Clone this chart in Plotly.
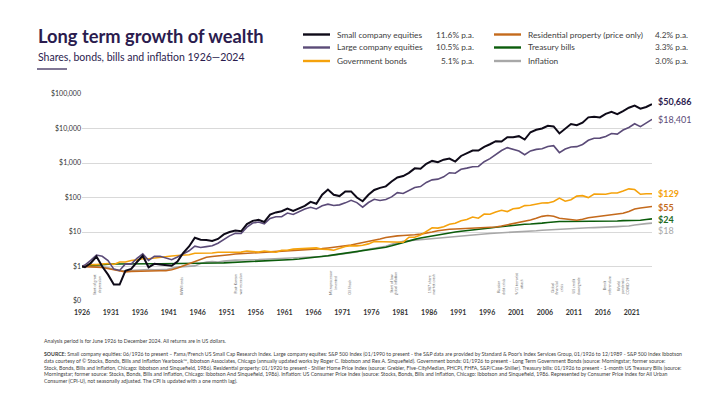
import plotly.graph_objects as go
import math

# June 1926 start, then year-end values 1926..2024 (growth of $1)
YEAR_END = list(range(1926, 2025))
X = [1926.5] + [y + 1 for y in YEAR_END]

SMALL = [1.00,
         0.95, 1.25, 1.95, 1.00, 0.58, 0.30, 0.30, 0.75, 0.85, 1.35,
         2.05, 0.95, 1.20, 1.15, 1.10, 1.05, 1.40, 2.50, 3.80, 6.80,
         6.00, 5.90, 5.50, 6.30, 8.50, 10.0, 11.0, 10.5, 17.0, 21.0,
         22.5, 19.5, 32.0, 37.0, 40.0, 48.0, 41.0, 49.0, 57.0, 75.0,
         66.0, 120, 170, 120, 110, 150, 150, 100, 78, 120,
         165, 190, 210, 290, 380, 420, 520, 700, 680, 950,
         1150, 1050, 1250, 1350, 1100, 1600, 1950, 2300, 2300, 2950,
         3500, 4300, 4200, 5600, 5600, 6000, 4800, 7800, 9200, 10000,
         12000, 11500, 7200, 10000, 13500, 12500, 14800, 21000, 22000, 21000,
         26500, 30500, 26000, 32000, 40000, 46000, 37500, 42000, 50686]

LARGE = [1.00,
         1.10, 1.50, 2.15, 1.98, 1.49, 0.84, 0.77, 1.19, 1.17, 1.73,
         2.32, 1.51, 1.98, 1.97, 1.77, 1.57, 1.89, 2.38, 2.85, 3.89,
         3.57, 3.77, 3.98, 4.73, 6.23, 7.73, 9.15, 9.05, 13.8, 18.2,
         19.4, 17.3, 24.8, 27.7, 27.9, 35.4, 32.3, 39.6, 46.2, 51.9,
         46.7, 57.9, 64.3, 58.8, 61.2, 69.9, 83.2, 71.0, 52.2, 71.6,
         88.7, 82.3, 87.7, 104, 138, 131, 159, 195, 207, 273,
         324, 341, 397, 523, 506, 660, 711, 782, 793, 1090,
         1342, 1790, 2302, 2787, 2533, 2232, 1739, 2238, 2481, 2603,
         3014, 3180, 2003, 2533, 2915, 2977, 3453, 4571, 5197, 5269,
         5899, 7187, 6872, 9035, 10697, 13768, 11274, 14237, 18401]

BONDS = [1.00,
         1.05, 1.13, 1.13, 1.17, 1.22, 1.15, 1.35, 1.35, 1.49, 1.56,
         1.68, 1.68, 1.78, 1.89, 2.00, 2.02, 2.09, 2.13, 2.19, 2.42,
         2.42, 2.36, 2.45, 2.60, 2.60, 2.49, 2.52, 2.61, 2.80, 2.77,
         2.62, 2.81, 2.65, 2.59, 2.94, 2.97, 3.18, 3.22, 3.32, 3.34,
         3.47, 3.15, 3.14, 2.97, 3.33, 3.81, 4.02, 3.97, 4.15, 4.52,
         5.29, 5.25, 5.19, 5.13, 4.94, 5.04, 7.04, 7.06, 8.15, 10.69,
         13.31, 12.95, 14.21, 16.79, 17.83, 21.29, 22.98, 27.21, 25.07, 33.00,
         32.65, 37.86, 42.77, 39.05, 47.18, 49.18, 58.08, 59.52, 64.47, 69.00,
         69.66, 77.05, 95.92, 78.20, 86.15, 109.7, 113.2, 99.5, 124.9, 122.5,
         124.2, 135.2, 134.7, 154.0, 178.0, 170.0, 124.0, 128.0, 129.0]

PROPERTY = [1.00,
            1.00, 0.98, 0.96, 0.94, 0.88, 0.82, 0.74, 0.70, 0.72, 0.73,
            0.74, 0.76, 0.76, 0.75, 0.75, 0.80, 0.90, 1.05, 1.20, 1.40,
            1.65, 1.85, 1.95, 2.00, 2.10, 2.20, 2.30, 2.35, 2.40, 2.45,
            2.50, 2.55, 2.60, 2.70, 2.80, 2.85, 2.90, 2.95, 3.00, 3.10,
            3.20, 3.30, 3.45, 3.60, 3.75, 3.95, 4.20, 4.55, 4.90, 5.20,
            5.70, 6.30, 6.90, 7.40, 7.70, 7.90, 8.00, 8.30, 8.70, 9.20,
            10.0, 10.9, 11.6, 12.0, 12.2, 12.4, 12.5, 12.9, 13.0, 13.2,
            13.5, 14.0, 14.9, 16.0, 17.3, 18.5, 20.3, 22.3, 24.9, 28.4,
            30.2, 28.5, 25.1, 23.9, 22.9, 21.9, 23.4, 25.9, 27.2, 28.7,
            30.4, 32.2, 33.7, 35.0, 39.5, 46.5, 49.5, 52.5, 55.0]

BILLS = [1.00,
         1.02, 1.05, 1.09, 1.14, 1.17, 1.18, 1.19, 1.19, 1.19, 1.19,
         1.19, 1.20, 1.20, 1.20, 1.20, 1.20, 1.20, 1.21, 1.21, 1.22,
         1.22, 1.23, 1.24, 1.26, 1.27, 1.29, 1.31, 1.33, 1.34, 1.36,
         1.39, 1.43, 1.45, 1.49, 1.53, 1.56, 1.60, 1.65, 1.71, 1.78,
         1.86, 1.94, 2.04, 2.17, 2.30, 2.40, 2.49, 2.66, 2.88, 3.05,
         3.20, 3.37, 3.62, 3.99, 4.45, 5.10, 5.62, 6.11, 6.71, 7.21,
         7.66, 8.07, 8.58, 9.27, 9.99, 10.55, 10.92, 11.25, 11.69, 12.38,
         13.02, 13.70, 14.37, 15.04, 15.92, 16.54, 16.82, 16.99, 17.20, 18.10,
         18.90, 19.80, 20.10, 20.10, 20.10, 20.10, 20.10, 20.20, 20.20, 20.20,
         20.30, 20.50, 20.90, 21.40, 21.50, 21.50, 21.90, 23.00, 24.00]

INFLATION = [1.00,
             1.01, 0.99, 0.98, 0.98, 0.92, 0.83, 0.75, 0.75, 0.77, 0.79,
             0.80, 0.82, 0.80, 0.80, 0.81, 0.89, 0.97, 0.99, 1.02, 1.04,
             1.23, 1.34, 1.38, 1.35, 1.43, 1.51, 1.53, 1.54, 1.53, 1.53,
             1.58, 1.62, 1.65, 1.68, 1.70, 1.71, 1.74, 1.77, 1.78, 1.82,
             1.88, 1.94, 2.03, 2.15, 2.27, 2.35, 2.43, 2.64, 2.97, 3.17,
             3.33, 3.55, 3.87, 4.38, 4.93, 5.37, 5.58, 5.79, 6.02, 6.25,
             6.31, 6.59, 6.89, 7.21, 7.65, 7.88, 8.11, 8.33, 8.55, 8.77,
             9.06, 9.22, 9.37, 9.62, 9.94, 10.10, 10.34, 10.53, 10.87, 11.25,
             11.53, 12.00, 12.01, 12.34, 12.53, 12.90, 13.12, 13.31, 13.42, 13.51,
             13.79, 14.09, 14.35, 14.68, 14.89, 15.93, 16.96, 17.53, 18.03]

NAMES = ["Small company equities", "Large company equities", "Government bonds",
         "Residential property (price only)", "Treasury bills", "Inflation"]
RATES = ["11.6% p.a.", "10.5% p.a.", "5.1% p.a.", "4.2% p.a.", "3.3% p.a.", "3.0% p.a."]
END_LABELS = ["$50,686", "$18,401", "$129", "$55", "$24", "$18"]

TICK_YEARS = list(range(1926, 2022, 5))
Y_TICKS = [0.1, 1, 10, 100, 1000, 10000, 100000]
Y_TEXT = ["$0", "$1", "$10", "$100", "$1,000", "$10,000", "$100,000"]

EVENTS = [(1929.2, "Start of great<br>depression"), (1943.8, "WWII ends"),
          (1953.5, "Post-Korean<br>war recession"), (1970.0, "Microprocessor<br>invented"),
          (1972.7, "Oil Shock"), (1980.4, "Start of low<br>global inflation"),
          (1986.9, "1987 share<br>market crash"), (1998.9, "Russian<br>debt crisis"),
          (2002.0, "9/11 terrorist<br>attack"), (2008.6, "Global<br>financial<br>crisis"),
          (2011.9, "US credit<br>downgrade"), (2017.2, "Brexit<br>referendum"),
          (2020.0, "World<br>pandemic:<br>COVID-19")]

SERIES = [SMALL, LARGE, BONDS, PROPERTY, BILLS, INFLATION]
COLORS = ["#0E0A18", "#5B4B78", "#F5A20C", "#C46A1C", "#0B5C0B", "#A8A8A8"]
WIDTHS = [2.0, 1.6, 1.6, 1.6, 1.6, 1.6]
LABEL_COLORS = ["#2B1C4E", "#5B4B78", "#F5A20C", "#C46A1C", "#1F6B1F", "#A8A8A8"]
LABEL_BOLD = [True, False, True, True, True, False]
LABEL_SHIFT = [3, 0, 0, -1, -1, -7]

FONT = "Lato"
DARK = "#2B1C4E"
TEXT = "#404040"

# the page body has an 8px margin, so the figure is drawn 8px in from the window corner
OFF = 8
W, H = 720 - OFF, 405 - OFF
# plot area in window pixels: x 82..652, y 94..301
L, R, T, B = 82, 652, 94, 301
def fx(px):
    return (px - L) / (R - L)
def fy(py):
    return (B - py) / (B - T)

fig = go.Figure()
# draw in reverse so small company sits on top
for vals, name, col, w in reversed(list(zip(SERIES, NAMES, COLORS, WIDTHS))):
    fig.add_trace(go.Scatter(x=X, y=vals, name=name, mode="lines",
                             line=dict(color=col, width=w), showlegend=False))

ann = []
shapes = []

# end labels
for vals, lab, col, bold, sh in zip(SERIES, END_LABELS, LABEL_COLORS, LABEL_BOLD, LABEL_SHIFT):
    ann.append(dict(x=X[-1], y=math.log10(vals[-1]), xref="x", yref="y", text=lab,
                    showarrow=False, xanchor="left", xshift=4, yshift=sh,
                    font=dict(family=FONT, size=9, color=col, weight=700 if bold else 400)))

# events
for yr, txt in EVENTS:
    ann.append(dict(x=yr, y=0.02, xref="x", yref="paper", text=txt, showarrow=False,
                    textangle=-90, xanchor="center", yanchor="bottom",
                    font=dict(family=FONT, size=3.6, color="#707070")))

# title block
ann.append(dict(x=fx(36), y=fy(36), xref="paper", yref="paper", xanchor="left", yanchor="middle",
                text="<b>Long term growth of wealth</b>", showarrow=False,
                font=dict(family=FONT, size=18.3, color=DARK)))
ann.append(dict(x=fx(36), y=fy(56.5), xref="paper", yref="paper", xanchor="left", yanchor="middle",
                text="Shares, bonds, bills and inflation 1926\u20142024", showarrow=False,
                font=dict(family=FONT, size=10.5, color=DARK)))
shapes.append(dict(type="line", xref="paper", yref="paper", x0=fx(37), x1=fx(67),
                   y0=fy(69), y1=fy(69), line=dict(color=DARK, width=1.2)))

# legend
rows = [34.5, 47.5, 61]
cols = [(303, 330, 335, 476), (494, 521, 526, 690)]
for i, (name, rate, col) in enumerate(zip(NAMES, RATES, COLORS)):
    c = cols[i // 3]
    r = rows[i % 3]
    shapes.append(dict(type="line", xref="paper", yref="paper", x0=fx(c[0]), x1=fx(c[1]),
                       y0=fy(r), y1=fy(r), line=dict(color=col, width=2.4)))
    ann.append(dict(x=fx(c[2]), y=fy(r), xref="paper", yref="paper", xanchor="left",
                    yanchor="middle", text=name, showarrow=False,
                    font=dict(family=FONT, size=8.3, color=TEXT)))
    ann.append(dict(x=fx(c[3]), y=fy(r), xref="paper", yref="paper", xanchor="right",
                    yanchor="middle", text=rate, showarrow=False,
                    font=dict(family=FONT, size=8.3, color=TEXT)))

# footer
ann.append(dict(x=fx(42), y=fy(341), xref="paper", yref="paper", xanchor="left", yanchor="middle",
                text="Analysis period is for June 1926 to December 2024. All returns are in US dollars.",
                showarrow=False, font=dict(family=FONT, size=5.2, color=TEXT)))
source = ("<b>SOURCE:</b> Small company equities: 06/1926 to present \u2013 Fama/French US Small Cap Research Index. "
          "Large company equites: S&P 500 Index (01/1990 to present - the S&P data are provided by Standard & Poor's "
          "Index Services Group, 01/1926 to 12/1989 - S&P 500 Index Ibbotson<br>"
          "data courtesy of \u00a9 Stocks, Bonds, Bills and Inflation Yearbook\u2122, Ibbotson Associates, Chicago "
          "(annually updated works by Roger C. Ibbotson and Rex A. Sinquefield). Government bonds: 01/1926 to present - "
          "Long Term Government Bonds (source: Morningstar; former source:<br>"
          "Stock, Bonds, Bills and Inflation, Chicago: Ibbotson and Sinquefield, 1986). Residential property: 01/1920 to "
          "present - Shiller Home Price Index (source: Grebler, Five-CityMedian, PHCPI, FHFA, S&P/Case-Shiller). "
          "Treasury bills: 01/1926 to present - 1-month US Treasury Bills (source:<br>"
          "Morningstar; former source: Stocks, Bonds, Bills and Inflation, Chicago: Ibbotson And Sinquefield, 1986). "
          "Inflation: US Consumer Price Index (source: Stocks, Bonds, Bills and Inflation, Chicago: Ibbotson and "
          "Sinquefield, 1986. Represented by Consumer Price Index for All Urban<br>"
          "Consumer (CPI-U), not seasonally adjusted. The CPI is updated with a one month lag).")
ann.append(dict(x=fx(42), y=fy(349), xref="paper", yref="paper", xanchor="left", yanchor="top",
                align="left", text=source, showarrow=False,
                font=dict(family=FONT, size=5.2, color=TEXT)))

tick_pos = [y + 0.5 for y in TICK_YEARS]
fig.update_layout(
    width=W, height=H,
    margin=dict(l=L - OFF, r=720 - R, t=T - OFF, b=405 - B),
    paper_bgcolor="white", plot_bgcolor="white",
    font=dict(family=FONT, color=TEXT),
    xaxis=dict(range=[1926.5, 2025], tickvals=tick_pos, ticktext=[str(y) for y in TICK_YEARS],
               showgrid=False, zeroline=False, showline=False, ticks="", ticklabelstandoff=6,
               tickfont=dict(family=FONT, size=7, color="#333333", weight=700)),
    xaxis2=dict(range=[1926.5, 2025], overlaying="x", anchor="free", position=fy(266),
                tickvals=tick_pos, showticklabels=False, ticks="outside", ticklen=3,
                tickcolor="#A0A0A0", tickwidth=0.8, showgrid=False, zeroline=False, showline=False),
    yaxis=dict(type="log", range=[-1, 5], tickvals=Y_TICKS, ticktext=Y_TEXT,
               showgrid=True, gridcolor="#D9D9D9", gridwidth=0.8, zeroline=False, showline=False,
               ticks="", tickfont=dict(family=FONT, size=7, color="#333333")),
    annotations=ann, shapes=shapes,
)

fig.write_html("out.html")
